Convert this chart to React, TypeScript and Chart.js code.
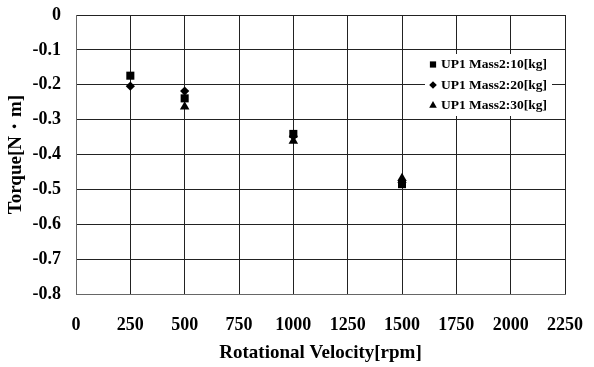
import React, { useEffect, useRef } from 'react';
import { Chart, registerables } from 'chart.js';
import { drawPoint } from 'chart.js/helpers';

Chart.register(...registerables);

// ---- data ----
const rpm = [250, 500, 1000, 1500];
const mass10 = [-0.174, -0.239, -0.341, -0.485];
const mass20 = [-0.204, -0.218, -0.348, -0.48];
const mass30: (number | null)[] = [null, -0.263, -0.361, -0.468];
const seriesLabels = ['UP1 Mass2:10[kg]', 'UP1 Mass2:20[kg]', 'UP1 Mass2:30[kg]'];
const xTickValues = [0, 250, 500, 750, 1000, 1250, 1500, 1750, 2000, 2250];
const yTickValues = [0, -0.1, -0.2, -0.3, -0.4, -0.5, -0.6, -0.7, -0.8];
const xTitle = 'Rotational Velocity[rpm]';
const yTitle = 'Torque[N・m]';

const FONT = "'Liberation Serif', 'Times New Roman', serif";

const markerStyles = ['rect', 'rectRot', 'triangle'];
const markerRadius = [5.7, 4.6, 5.5];
const legendRadius = [4.4, 3.8, 4.4];

const toPoints = (ys: (number | null)[]) =>
  rpm.map((x, i) => ({ x, y: ys[i] })).filter((p) => p.y !== null);

const boxLegend = {
  id: 'boxLegend',
  afterDatasetsDraw(chart: any) {
    const { ctx, chartArea } = chart;
    const w = 127;
    const h = 62;
    const x0 = chartArea.right - 140;
    const y0 = chartArea.top + 39;
    ctx.save();
    ctx.fillStyle = '#ffffff';
    ctx.fillRect(x0, y0, w, h);
    chart.data.datasets.forEach((ds: any, i: number) => {
      const cy = y0 + 10.5 + i * 20.5;
      const cx = x0 + 8;
      ctx.fillStyle = '#000';
      drawPoint(ctx, { pointStyle: markerStyles[i], radius: legendRadius[i], borderWidth: 0, rotation: 0 } as any, cx, cy);
      ctx.fillStyle = '#000';
      ctx.font = `bold 13.5px ${FONT}`;
      ctx.textBaseline = 'middle';
      ctx.textAlign = 'left';
      ctx.fillText(ds.label, x0 + 16, cy + 0.5);
    });
    ctx.restore();
  },
};

export default function App() {
  const ref = useRef<HTMLCanvasElement>(null);

  useEffect(() => {
    if (!ref.current) return;
    const series = [mass10, mass20, mass30];
    const chart = new Chart(ref.current, {
      type: 'scatter',
      data: {
        datasets: series.map((ys, i) => ({
          label: seriesLabels[i],
          data: toPoints(ys) as any,
          pointStyle: markerStyles[i] as any,
          pointRadius: markerRadius[i],
          pointHoverRadius: markerRadius[i],
          backgroundColor: '#000',
          borderColor: '#000',
          pointBorderWidth: 0,
          showLine: false,
        })),
      },
      options: {
        responsive: false,
        animation: false,
        events: [],
        layout: { padding: { top: 15, right: 29, left: 0, bottom: 0 } },
        plugins: {
          legend: { display: false },
          tooltip: { enabled: false },
        },
        scales: {
          x: {
            type: 'linear',
            min: xTickValues[0],
            max: xTickValues[xTickValues.length - 1],
            afterBuildTicks: (s: any) => {
              s.ticks = xTickValues.map((v) => ({ value: v }));
            },
            afterFit: (s: any) => {
              s.height = 73;
              s.paddingLeft = 0;
              s.paddingRight = 0;
            },
            grid: { color: '#222', lineWidth: 1, drawTicks: false },
            border: { color: '#666', width: 1 },
            ticks: {
              padding: 21,
              color: '#000',
              maxRotation: 0,
              autoSkip: false,
              font: { family: FONT, size: 18, weight: 'bold' },
              callback: (v: any) => String(v),
            },
            title: {
              display: true,
              text: xTitle,
              color: '#000',
              font: { family: FONT, size: 19, weight: 'bold' },
              padding: { top: 0, bottom: 3 },
            },
          },
          y: {
            type: 'linear',
            min: yTickValues[yTickValues.length - 1],
            max: yTickValues[0],
            afterBuildTicks: (s: any) => {
              s.ticks = yTickValues.slice().reverse().map((v) => ({ value: v }));
            },
            afterFit: (s: any) => {
              s.width = 76;
              s.paddingTop = 0;
              s.paddingBottom = 0;
            },
            grid: { color: '#222', lineWidth: 1, drawTicks: false },
            border: { color: '#666', width: 1 },
            ticks: {
              padding: 15,
              color: '#000',
              autoSkip: false,
              font: { family: FONT, size: 18, weight: 'bold' },
              callback: (v: any) => String(Math.round(Number(v) * 10) / 10),
            },
            title: {
              display: true,
              text: yTitle,
              color: '#000',
              font: { family: FONT, size: 19, weight: 'bold' },
              padding: { top: 5, bottom: 0 },
            },
          },
        },
      },
      plugins: [boxLegend],
    });
    return () => chart.destroy();
  }, []);

  return (
    <div style={{ position: 'absolute', left: 0, top: 0, width: 594, height: 367, background: '#fff' }}>
      <canvas ref={ref} width={594} height={367} style={{ width: 594, height: 367, display: 'block' }} />
    </div>
  );
}
